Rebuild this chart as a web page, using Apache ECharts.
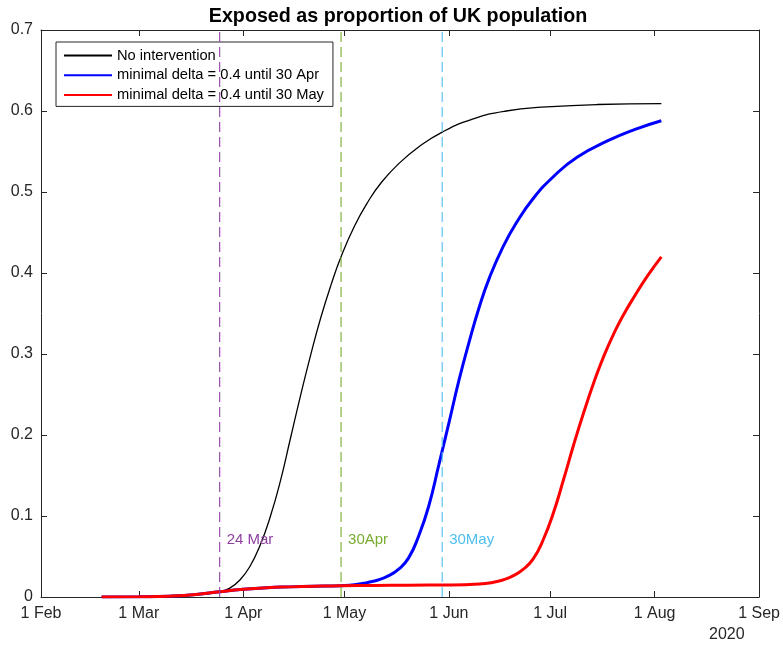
<!DOCTYPE html>
<html>
<head>
<meta charset="utf-8">
<script src="https://cdn.jsdelivr.net/npm/echarts@6/dist/echarts.min.js"></script>
<style>
html,body{margin:0;padding:0;background:#fff;}
#c{width:783px;height:648px;}
</style>
</head>
<body>
<div id="c"></div>
<script>
// ---- data ----
const titleText = 'Exposed as proportion of UK population';
const seriesNames = ['No intervention', 'minimal delta = 0.4 until 30 Apr', 'minimal delta = 0.4 until 30 May'];

const monthTicks = ['2020-02-01','2020-03-01','2020-04-01','2020-05-01','2020-06-01','2020-07-01','2020-08-01','2020-09-01'];
const monthLabels = ['1 Feb','1 Mar','1 Apr','1 May','1 Jun','1 Jul','1 Aug','1 Sep'];
const yearLabel = '2020';
const yTicks = [0, 0.1, 0.2, 0.3, 0.4, 0.5, 0.6, 0.7];

// shared early part (all scenarios identical)
const commonDates = ['2020-02-19','2020-03-01','2020-03-10','2020-03-18','2020-03-25'];
const commonVals  = [0, 0.0003, 0.001, 0.003, 0.0065];

// no intervention
const noIntDates = ['2020-03-28','2020-03-31','2020-04-03','2020-04-06','2020-04-09','2020-04-12','2020-04-15','2020-04-18','2020-04-21','2020-04-24','2020-04-27','2020-04-30','2020-05-04','2020-05-08','2020-05-12','2020-05-17','2020-05-23','2020-05-30','2020-06-08','2020-06-18','2020-06-30','2020-07-15','2020-08-03'];
const noIntVals  = [0.011, 0.021, 0.038, 0.064, 0.099, 0.143, 0.196, 0.249, 0.299, 0.345, 0.385, 0.420, 0.458, 0.488, 0.512, 0.5345, 0.5555, 0.574, 0.590, 0.600, 0.605, 0.608, 0.609];

// lockdown part shared by both intervention scenarios
const lockDates = ['2020-04-01','2020-04-08','2020-04-15','2020-04-22','2020-04-30'];
const lockVals  = [0.0095, 0.0115, 0.0125, 0.0133, 0.014];

// until 30 Apr
const aprDates = ['2020-05-04','2020-05-08','2020-05-11','2020-05-14','2020-05-17','2020-05-20','2020-05-23','2020-05-26','2020-05-29','2020-06-01','2020-06-04','2020-06-07','2020-06-10','2020-06-13','2020-06-17','2020-06-21','2020-06-26','2020-07-02','2020-07-09','2020-07-18','2020-07-26','2020-08-03'];
const aprVals  = [0.015, 0.018, 0.021, 0.026, 0.034, 0.048, 0.075, 0.112, 0.163, 0.215, 0.268, 0.315, 0.358, 0.394, 0.432, 0.462, 0.492, 0.519, 0.543, 0.563, 0.577, 0.588];

// until 30 May
const mayDates = ['2020-05-10','2020-05-20','2020-06-01','2020-06-10','2020-06-14','2020-06-17','2020-06-20','2020-06-23','2020-06-26','2020-06-29','2020-07-02','2020-07-05','2020-07-08','2020-07-11','2020-07-14','2020-07-17','2020-07-20','2020-07-23','2020-07-26','2020-07-30','2020-08-03'];
const mayVals  = [0.0143, 0.0146, 0.0148, 0.016, 0.018, 0.021, 0.026, 0.034, 0.047, 0.071, 0.104, 0.145, 0.188, 0.228, 0.265, 0.298, 0.326, 0.350, 0.371, 0.397, 0.420];

// event markers
const eventDates  = ['2020-03-25','2020-04-30','2020-05-30'];
const eventLabels = ['24 Mar','30Apr','30May'];
const eventLabelLevel = 0.070;

// ---- styles ----
const seriesColors = ['#000000', '#0000ff', '#ff0000'];
const seriesWidths = [1.3, 3, 3];
const eventColors = ['#8E3FA0', '#77AC30', '#4DBEEE'];
const axisColor = '#262626';
const FONT = '"Liberation Sans", Arial, Helvetica, sans-serif';

const ts = s => +new Date(s + 'T00:00:00');
const pairs = (ds, vs) => ds.map((d, i) => [ts(d), vs[i]]);

const dataNoInt = pairs(commonDates, commonVals).concat(pairs(noIntDates, noIntVals));
const dataApr = pairs(commonDates, commonVals).concat(pairs(lockDates, lockVals), pairs(aprDates, aprVals));
const dataMay = pairs(commonDates, commonVals).concat(pairs(lockDates, lockVals), pairs(mayDates, mayVals));

const tickTs = monthTicks.map(ts);
const labelFor = v => { const i = tickTs.findIndex(t => Math.abs(t - v) < 1000); return i >= 0 ? monthLabels[i] : ''; };

const chart = echarts.init(document.getElementById('c'), null, {renderer: 'canvas'});

const xBase = {
  type: 'value', min: tickTs[0], max: tickTs[tickTs.length - 1], scale: true,
  axisLine: {show: true, onZero: false, lineStyle: {color: axisColor, width: 1}},
  splitLine: {show: false},
  axisTick: {show: true, inside: true, length: 6, lineStyle: {color: axisColor}, customValues: tickTs},
};
const yBase = {
  type: 'value', min: 0, max: 0.7, interval: 0.1,
  axisLine: {show: true, onZero: false, lineStyle: {color: axisColor, width: 1}},
  splitLine: {show: false},
  axisTick: {show: true, inside: true, length: 6, lineStyle: {color: axisColor}},
};

const curveSeries = [dataNoInt, dataApr, dataMay].map((d, i) => ({
  name: seriesNames[i], type: 'line', data: d, showSymbol: false, symbol: 'none',
  smooth: 0.5,
  lineStyle: {color: seriesColors[i], width: seriesWidths[i]}, itemStyle: {color: seriesColors[i]},
  z: 3 + i
}));

const eventSeries = eventDates.map((d, i) => ({
  name: eventLabels[i], type: 'line', data: [[ts(d), 0], [ts(d), 0.7]],
  showSymbol: false, symbol: 'none', silent: true, z: 7,
  lineStyle: {color: eventColors[i], width: 1.1, type: [10, 5]}, itemStyle: {color: eventColors[i]},
  markPoint: {
    silent: true, animation: false, symbol: 'circle', symbolSize: 0,
    data: [{
      coord: [ts(d), eventLabelLevel], name: eventLabels[i],
      label: {show: true, position: 'right', distance: 7, formatter: eventLabels[i],
        color: eventColors[i], fontFamily: FONT, fontSize: 15}
    }]
  }
}));

const option = {
  animation: false,
  backgroundColor: '#ffffff',
  title: {
    text: titleText, left: 398, textAlign: 'center', top: 7, padding: 0,
    textStyle: {fontFamily: FONT, fontSize: 19.7, fontWeight: 'bold', color: '#000'}
  },
  grid: {left: 41, right: 23, top: 30, bottom: 51, containLabel: false},
  legend: {
    orient: 'vertical', left: 56, top: 42,
    data: seriesNames,
    backgroundColor: '#fff', borderColor: axisColor, borderWidth: 1,
    padding: [6, 9, 4, 7], itemWidth: 48, itemHeight: 14, itemGap: 4.7,
    itemStyle: {opacity: 0},
    textStyle: {fontFamily: FONT, fontSize: 14.7, color: '#000'}
  },
  xAxis: [
    Object.assign({}, xBase, {
      position: 'bottom',
      axisLabel: {show: true, customValues: tickTs, formatter: labelFor, margin: 9,
        fontFamily: FONT, fontSize: 16, color: axisColor, hideOverlap: false, showMinLabel: true, showMaxLabel: true}
    }),
    Object.assign({}, xBase, {position: 'top', axisLabel: {show: false}})
  ],
  yAxis: [
    Object.assign({}, yBase, {
      position: 'left',
      axisLabel: {show: true, margin: 8, fontFamily: FONT, fontSize: 16, color: axisColor,
        formatter: v => { const i = yTicks.findIndex(t => Math.abs(t - v) < 1e-9); return i >= 0 ? String(yTicks[i]) : ''; }}
    }),
    Object.assign({}, yBase, {position: 'right', axisLabel: {show: false}})
  ],
  graphic: [{
    type: 'text', left: 709, top: 627,
    style: {text: yearLabel, font: '16px ' + FONT, fill: axisColor}
  }],
  series: curveSeries.concat(eventSeries)
};
chart.setOption(option);
</script>
</body>
</html>
